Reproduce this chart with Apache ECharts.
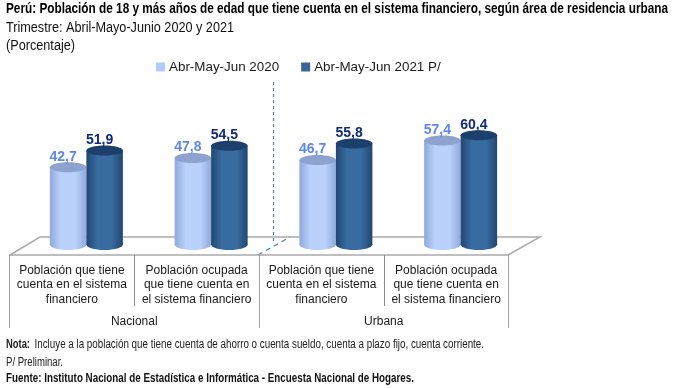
<!DOCTYPE html>
<html>
<head>
<meta charset="utf-8">
<style>html,body{margin:0;padding:0;background:#fff}#c{width:674px;height:388px}</style>
<script src="https://cdn.jsdelivr.net/npm/echarts@6/dist/echarts.min.js"></script>
</head>
<body>
<div id="c"></div>
<script>
const categories = [
  "Población que tiene\ncuenta en el sistema\nfinanciero",
  "Población ocupada\nque tiene cuenta en\nel sistema financiero",
  "Población que tiene\ncuenta en el sistema\nfinanciero",
  "Población ocupada\nque tiene cuenta en\nel sistema financiero"
];
const groups = ["Nacional", "Urbana"];
const seriesNames = ["Abr-May-Jun 2020", "Abr-May-Jun 2021 P/"];
const values2020 = [42.7, 47.8, 46.7, 57.4];
const values2021 = [51.9, 54.5, 55.8, 60.4];

const SANS = '"Liberation Sans", Arial, sans-serif';
const BAR_W = 36.5, RY = 5;

function cylinder(sign, edge, mid, cap, labelColor) {
  return function (params, api) {
    const i = api.value(0), v = api.value(1);
    const top = api.coord([i, v]), base = api.coord([i, 0]);
    const x = top[0] + (sign < 0 ? -BAR_W : 0);
    const cx = x + BAR_W / 2, rx = BAR_W / 2;
    const fill = new echarts.graphic.LinearGradient(0, 0, 1, 0, [
      { offset: 0, color: edge }, { offset: 0.3, color: mid },
      { offset: 0.7, color: mid }, { offset: 1, color: edge }
    ]);
    return {
      type: 'group',
      children: [
        { type: 'ellipse', shape: { cx: cx, cy: base[1], rx: rx, ry: RY + 0.5 }, style: { fill: fill } },
        { type: 'rect', shape: { x: x, y: top[1], width: BAR_W, height: base[1] - top[1] }, style: { fill: fill } },
        { type: 'ellipse', shape: { cx: cx, cy: top[1], rx: rx, ry: RY }, style: { fill: cap } },
        { type: 'text', x: cx - 5, y: top[1] - 10.5,
          style: { text: v.toFixed(1).replace('.', ','), fill: labelColor,
                   font: 'bold 14px ' + SANS, textAlign: 'center', textVerticalAlign: 'middle' } }
      ]
    };
  };
}

// Text lines condensed horizontally to the reference's narrow look
const ctx = document.createElement('canvas').getContext('2d');
function widthOf(text, font) { ctx.font = font; return ctx.measureText(text).width; }
function line(text, x, y, size, weight, target, color) {
  const font = weight + ' ' + size + 'px ' + SANS;
  return { type: 'text', x: x, y: y, scaleX: target / widthOf(text, font), silent: true,
    style: { text: text, font: font, fill: color, textVerticalAlign: 'middle' } };
}

const chart = echarts.init(document.getElementById('c'), null, { renderer: 'canvas' });
const floorColor = '#ababab', divColor = '#4a7fc0';

chart.setOption({
  animation: false,
  backgroundColor: '#fff',
  legend: {
    left: 156, top: 60.5, padding: 0, itemWidth: 9, itemHeight: 9, itemGap: 22, icon: 'rect',
    data: seriesNames,
    textStyle: { fontFamily: SANS, fontSize: 13.4, color: '#1a1a1a', padding: [0, 0, 0, -1] }
  },
  grid: [
    { left: 24, width: 499, top: 63.5, height: 181 },
    { left: 9.5, width: 499, top: 254, height: 1 },
    { left: 9.5, width: 499, top: 254, height: 1 }
  ],
  xAxis: [
    { gridIndex: 0, type: 'category', data: categories, show: false },
    { gridIndex: 1, type: 'category', data: categories,
      axisLine: { show: true, onZero: false, lineStyle: { color: floorColor, width: 1.5 } },
      axisTick: { show: true, length: 51, lineStyle: { color: '#8c8c8c' } },
      axisLabel: { interval: 0, margin: 8.5, lineHeight: 14.3, fontFamily: SANS, fontSize: 12, color: '#1a1a1a' } },
    { gridIndex: 2, type: 'category', data: groups,
      axisLine: { show: false, onZero: false },
      axisTick: { show: true, length: 73, lineStyle: { color: '#a0a0a0' } },
      axisLabel: { interval: 0, margin: 61, fontFamily: SANS, fontSize: 12, color: '#1a1a1a' } }
  ],
  yAxis: [
    { gridIndex: 0, type: 'value', min: 0, max: 100, show: false },
    { gridIndex: 1, type: 'value', min: 0, max: 1, show: false },
    { gridIndex: 2, type: 'value', min: 0, max: 1, show: false }
  ],
  graphic: [
    { type: 'polyline', z: 0, silent: true,
      shape: { points: [[10, 255], [40, 237], [540, 237], [508, 255]] },
      style: { stroke: floorColor, lineWidth: 1.5, fill: null } },
    { type: 'line', z: 0, silent: true, shape: { x1: 273.5, y1: 82, x2: 273.5, y2: 244 },
      style: { stroke: divColor, lineWidth: 1.2, lineDash: [3, 3] } },
    { type: 'line', z: 0, silent: true, shape: { x1: 258, y1: 255, x2: 290, y2: 237 },
      style: { stroke: divColor, lineWidth: 1.2, lineDash: [5, 4] } },
    line("Perú: Población de 18 y más años de edad que tiene cuenta en el sistema financiero, según área de residencia urbana", 6, 9.5, 14, 'bold', 662, '#000'),
    line("Trimestre: Abril-Mayo-Junio 2020 y 2021", 6, 28, 14, 'normal', 228, '#111'),
    line("(Porcentaje)", 6, 46, 14, 'normal', 69, '#111'),
    line("Nota:", 6, 345, 12.5, 'bold', 24, '#222'),
    line("Incluye a la población que tiene cuenta de ahorro o cuenta sueldo, cuenta a plazo fijo, cuenta corriente.", 34.5, 345, 12.5, 'normal', 449.5, '#222'),
    line("P/ Preliminar.", 6, 363, 12.5, 'normal', 57, '#222'),
    line("Fuente: Instituto Nacional de Estadística e Informática - Encuesta Nacional de Hogares.", 6, 379, 12.5, 'bold', 408, '#111')
  ],
  series: [
    { name: seriesNames[0], type: 'custom', xAxisIndex: 0, yAxisIndex: 0, clip: false,
      itemStyle: { color: '#b3cbfa' },
      encode: { x: 0, y: 1 },
      data: values2020.map((v, i) => [i, v]),
      renderItem: cylinder(-1, '#8fa9da', '#bad2fb', '#8da2cf', '#5d87f2') },
    { name: seriesNames[1], type: 'custom', xAxisIndex: 0, yAxisIndex: 0, clip: false,
      itemStyle: { color: '#3b6494' },
      encode: { x: 0, y: 1 },
      data: values2021.map((v, i) => [i, v]),
      renderItem: cylinder(1, '#214672', '#386b9f', '#1c3f6b', '#12297a') }
  ]
});
</script>
</body>
</html>
